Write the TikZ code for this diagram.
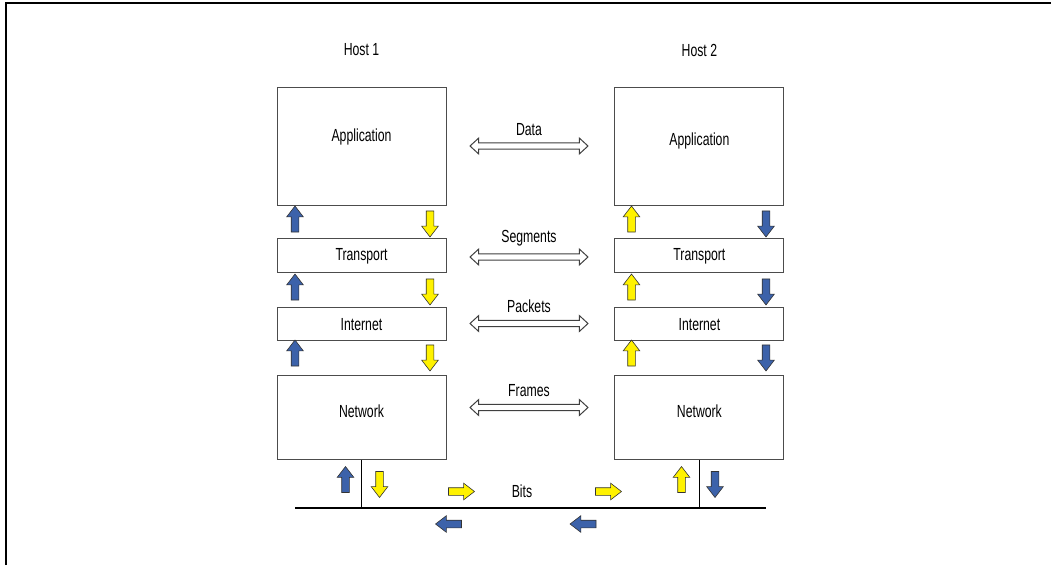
\documentclass[tikz,border=0pt]{standalone}
\usepackage{fontspec}
\setmainfont{Liberation Sans}[FakeStretch=0.7]
\usetikzlibrary{positioning,shapes.arrows}

\definecolor{hblue}{RGB}{60,98,170}
\definecolor{hyellow}{RGB}{255,242,0}

\tikzset{
  layer/.style={draw=black!70,line width=0.9pt,minimum width=169pt,inner sep=0pt},
  blockarr/.style={single arrow,draw=black!80,line width=0.6pt,minimum height=26pt,
    minimum width=16pt,inner sep=3.5pt,single arrow head extend=4.5pt,
    single arrow tip angle=75},
  uparr/.style={blockarr,shape border rotate=90},
  downarr/.style={blockarr,shape border rotate=270},
  rightarr/.style={blockarr,shape border rotate=0},
  leftarr/.style={blockarr,shape border rotate=180},
  pdu/.style={double arrow,draw=black!75,line width=1pt,fill=white,
    minimum height=118pt,minimum width=16pt,inner sep=2.5pt,
    double arrow head extend=4.5pt,double arrow tip angle=85},
}

\begin{document}
\fontsize{17.5}{20}\selectfont
\begin{tikzpicture}[x=1pt, y=-1pt]
    \useasboundingbox (0,0) rectangle (1051,565);
    \draw[line width=1.6pt] (6,565) -- (6,3) -- (1051,3);

    % host 1
    \node (h1) at (361.5,50) {Host 1};
    \node[layer,minimum height=118pt] (app1) at (361.5,146) {};
    \node[layer,minimum height=34pt,below=33pt of app1] (trans1) {Transport};
    \node[layer,minimum height=33pt,below=34pt of trans1] (inet1) {Internet};
    \node[layer,minimum height=84pt,below=34pt of inet1] (net1) {};
    \node (app1t) at ([yshift=9pt]app1.center) {Application};
    \node (net1t) at ([yshift=6pt]net1.center) {Network};

    % host 2
    \node[layer,minimum height=118pt,right=168pt of app1] (app2) {};
    \node[layer,minimum height=34pt,below=33pt of app2] (trans2) {Transport};
    \node[layer,minimum height=33pt,below=34pt of trans2] (inet2) {Internet};
    \node[layer,minimum height=84pt,below=34pt of inet2] (net2) {};
    \node (app2t) at ([yshift=5pt]app2.center) {Application};
    \node (net2t) at ([yshift=6pt]net2.center) {Network};
    \node (h2) at (app2 |- h1) {Host 2};

    % peer to peer
    \node[pdu] (dataarr) at (529,146) {};
    \node[pdu] (segarr) at (529,257) {};
    \node[pdu] (pktarr) at (529,323.5) {};
    \node[pdu] (frmarr) at (529,407.5) {};
    \node[above=1pt of dataarr] (data) {Data};
    \node[above=1pt of segarr] (seg) {Segments};
    \node[above=1pt of pktarr] (pkt) {Packets};
    \node[above=1pt of frmarr] (frm) {Frames};

    % layers, host 1
    \node[uparr,fill=hblue] (u1a) at (295,221.5) {};
    \node[uparr,fill=hblue] (u1b) at (295,289.5) {};
    \node[uparr,fill=hblue] (u1c) at (295,355.5) {};
    \node[downarr,fill=hyellow] (d1a) at (430,221.5) {};
    \node[downarr,fill=hyellow] (d1b) at (430,289.5) {};
    \node[downarr,fill=hyellow] (d1c) at (430,355.5) {};

    % layers, host 2
    \node[uparr,fill=hyellow] (u2a) at (631.5,221.5) {};
    \node[uparr,fill=hyellow] (u2b) at (631.5,289.5) {};
    \node[uparr,fill=hyellow] (u2c) at (631.5,355.5) {};
    \node[downarr,fill=hblue] (d2a) at (766,221.5) {};
    \node[downarr,fill=hblue] (d2b) at (766,289.5) {};
    \node[downarr,fill=hblue] (d2c) at (766,355.5) {};

    % wire
    \coordinate (wireL) at (295,508);
    \coordinate (wireR) at (766,508);
    \draw[line width=1.3pt] (wireL) -- (wireR);
    \draw[line width=1.3pt] (net1.south) -- (net1.south |- wireL);
    \draw[line width=1.3pt] (net2.south) -- (net2.south |- wireL);
    \node (bits) at (522,491) {Bits};

    \node[uparr,fill=hblue] (u1d) at (345.5,482) {};
    \node[downarr,fill=hyellow] (d1d) at (379.5,482) {};
    \node[uparr,fill=hyellow] (u2d) at (681.5,482) {};
    \node[downarr,fill=hblue] (d2d) at (715,482) {};
    \node[rightarr,fill=hyellow] (r1) at (459,491.5) {};
    \node[rightarr,fill=hyellow] (r2) at (606,491.5) {};
    \node[leftarr,fill=hblue] (l1) at (451,524) {};
    \node[leftarr,fill=hblue] (l2) at (585.5,524) {};
\end{tikzpicture}
\end{document}
